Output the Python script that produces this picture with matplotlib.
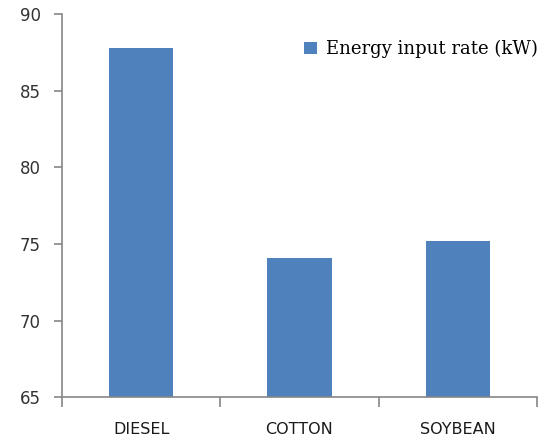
import numpy as np
import matplotlib.pyplot as plt
from matplotlib.patches import Patch

# Energy input rate per fuel
fuels = ["DIESEL", "COTTON", "SOYBEAN"]
energy_kw = [87.8, 74.1, 75.2]
series_name = "Energy input rate (kW)"
y_ticks = [65, 70, 75, 80, 85, 90]

bar_color = "#4f81bd"
axis_color = "#868686"

plt.rcParams["font.family"] = ["DejaVu Sans"]

fig = plt.figure(figsize=(5.48, 4.41), dpi=100)
ax = fig.add_axes([0.113, 0.099, 0.867, 0.869])

x = np.arange(len(fuels))
ax.bar(x, energy_kw, width=0.405, color=bar_color, zorder=2)

ax.set_ylim(65, 90)
ax.set_yticks(y_ticks)
ax.set_xlim(-0.5, len(fuels) - 0.5)

# category labels centred, tick marks on the boundaries
ax.set_xticks(x)
ax.set_xticklabels(fuels, fontsize=11.5, color="#1a1a1a")
ax.set_xticks(np.arange(len(fuels) + 1) - 0.5, minor=True)
ax.tick_params(axis="x", which="major", length=0, pad=18)
ax.tick_params(axis="x", which="minor", length=7, width=1.2, color=axis_color, direction="out")
ax.tick_params(axis="y", length=6, width=1.2, color=axis_color, direction="out",
               labelsize=12, labelcolor="#333333", pad=9)

for side in ["top", "right"]:
    ax.spines[side].set_visible(False)
for side in ["left", "bottom"]:
    ax.spines[side].set_color(axis_color)
    ax.spines[side].set_linewidth(1.2)

handle = Patch(facecolor=bar_color, edgecolor="none")
ax.legend([handle], [series_name], loc="upper left", bbox_to_anchor=(0.475, 0.975),
          frameon=False, handlelength=0.75, handleheight=0.7, handletextpad=0.45,
          prop={"family": "DejaVu Serif", "size": 13})

fig.savefig("out.png", dpi=100)
